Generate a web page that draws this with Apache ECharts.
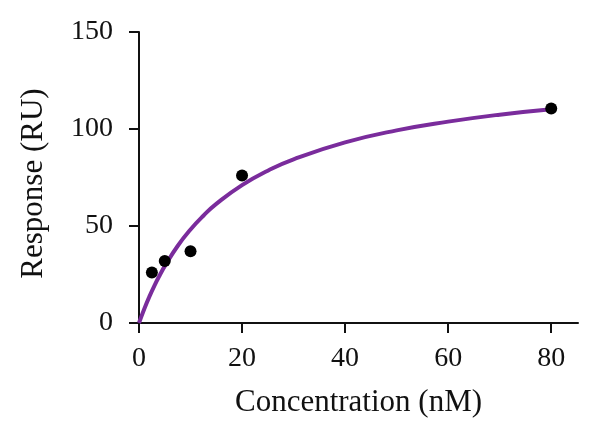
<!DOCTYPE html>
<html>
<head>
<meta charset="utf-8">
<script src="https://cdn.jsdelivr.net/npm/echarts@6/dist/echarts.min.js"></script>
<style>
  html, body { margin: 0; padding: 0; background: #fff; }
  #chart { width: 600px; height: 435px; }
</style>
</head>
<body>
<div id="chart"></div>
<script>
// measured points (nM, RU)
const concentration = [2.5, 5, 10, 20, 80];
const response = [26, 32, 37, 76, 110.6];

// fitted curve
const fitX = [0, 1, 2, 3, 4, 5, 7.5, 10, 12.5, 15, 20, 25, 30, 40, 50, 60, 70, 80];
const fitY = [0, 7.1, 13.5, 19.3, 24.5, 29.3, 39.7, 48.2, 55.3, 61.4, 71.1, 78.5, 84.4, 93.1, 99.3, 103.8, 107.4, 110.2];

const xTicks = [0, 20, 40, 60, 80];
const yTicks = [0, 50, 100, 150];

const FONT = '"Liberation Serif", "Times New Roman", serif';
const INK = '#111';

const chart = echarts.init(document.getElementById('chart'));

const axisCommon = {
    axisLine: { show: true, lineStyle: { color: INK, width: 2 } },
    axisTick: { show: true, length: 10, lineStyle: { color: INK, width: 2 } },
    splitLine: { show: false },
    nameLocation: 'middle',
    nameTextStyle: { fontFamily: FONT, fontSize: 31, color: INK }
};

chart.setOption({
    animation: false,
    backgroundColor: '#fff',
    grid: { left: 139, right: 22, top: 32, bottom: 112 },
    xAxis: Object.assign({}, axisCommon, {
        type: 'value',
        min: 0,
        max: 85.2,
        interval: 20,
        name: 'Concentration (nM)',
        nameGap: 64,
        axisLabel: {
            fontFamily: FONT, fontSize: 28, color: INK, margin: 22,
            customValues: xTicks
        },
        axisTick: Object.assign({}, axisCommon.axisTick, { customValues: xTicks })
    }),
    yAxis: Object.assign({}, axisCommon, {
        type: 'value',
        min: 0,
        max: 150,
        interval: 50,
        name: 'Response (RU)',
        nameGap: 90,
        nameTextStyle: Object.assign({}, axisCommon.nameTextStyle, { padding: [0, 12, 0, 0] }),
        axisLabel: {
            fontFamily: FONT, fontSize: 28, color: INK, margin: 26,
            customValues: yTicks
        },
        axisTick: Object.assign({}, axisCommon.axisTick, { customValues: yTicks })
    }),
    series: [
        {
            type: 'line',
            data: fitX.map((x, i) => [x, fitY[i]]),
            smooth: true,
            showSymbol: false,
            lineStyle: { color: '#7a2c9c', width: 4 },
            z: 2
        },
        {
            type: 'scatter',
            data: concentration.map((x, i) => [x, response[i]]),
            symbolSize: 12,
            itemStyle: { color: '#000', opacity: 1 },
            z: 3
        }
    ]
});
</script>
</body>
</html>
